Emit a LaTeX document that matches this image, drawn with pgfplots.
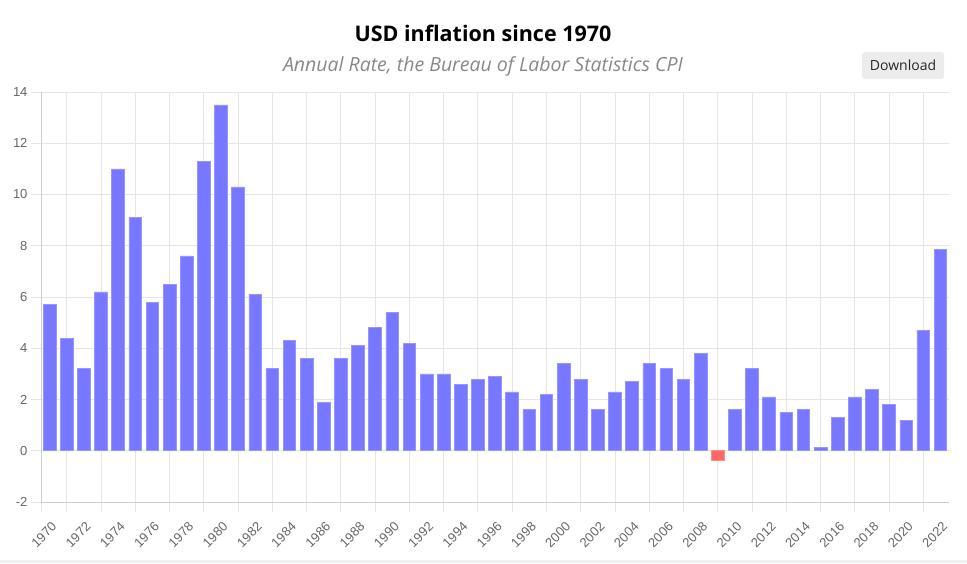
\documentclass[border=0pt]{standalone}
\usepackage{pgfplots}
\pgfplotsset{compat=1.18}
\usepackage{fontspec}
\setmainfont{Liberation Sans}
\newfontfamily\osfont{Open Sans}
\definecolor{barblue}{RGB}{119,119,255}
\definecolor{baredge}{RGB}{150,150,255}
\definecolor{barred}{RGB}{255,102,102}
\definecolor{rededge}{RGB}{255,140,140}
\definecolor{gridc}{RGB}{229,229,229}
\definecolor{axc}{RGB}{205,205,205}
\definecolor{tickc}{RGB}{102,102,102}
\definecolor{subc}{RGB}{136,136,136}
\pgfplotstableread{
year val
1970 5.7
1971 4.4
1972 3.2
1973 6.2
1974 11.0
1975 9.1
1976 5.8
1977 6.5
1978 7.6
1979 11.3
1980 13.5
1981 10.3
1982 6.1
1983 3.2
1984 4.3
1985 3.6
1986 1.9
1987 3.6
1988 4.1
1989 4.8
1990 5.4
1991 4.2
1992 3.0
1993 3.0
1994 2.6
1995 2.8
1996 2.9
1997 2.3
1998 1.6
1999 2.2
2000 3.4
2001 2.8
2002 1.6
2003 2.3
2004 2.7
2005 3.4
2006 3.2
2007 2.8
2008 3.8
2010 1.6
2011 3.2
2012 2.1
2013 1.5
2014 1.6
2015 0.12
2016 1.3
2017 2.1
2018 2.4
2019 1.8
2020 1.2
2021 4.7
2022 7.85
}\pos
\pgfplotstableread{
year val
2009 -0.36
}\negv
\begin{document}
\begin{tikzpicture}
\path[use as bounding box] (0,0) rectangle (967pt,563pt);
\fill[gray!12] (0,0) rectangle (967pt,3pt);
\node[font=\osfont\bfseries\fontsize{21.5}{24}\selectfont] at (483pt,530pt) {USD inflation since 1970};
\node[font=\osfont\itshape\fontsize{19.5}{22}\selectfont, text=subc] at (483pt,497pt) {Annual Rate, the Bureau of Labor Statistics CPI};
\node[fill=gray!15, rounded corners=3pt, minimum width=82pt, minimum height=27pt, font=\osfont\fontsize{14}{16}\selectfont, text=black!85] at (903pt,497.5pt) {Download};
\begin{axis}[at={(41pt,61pt)}, anchor=south west, scale only axis,
  width=908pt, height=410pt,
  xmin=1969.5, xmax=2022.5, ymin=-2, ymax=14,
  axis x line=bottom, axis y line=left,
  axis line style={-, draw=axc, line width=0.8pt},
  ytick={-2,0,2,4,6,8,10,12,14},
  xtick={1969.5,1971,1973,1975,1977,1979,1981,1983,1985,1987,1989,1991,1993,1995,1997,1999,2001,2003,2005,2007,2009,2011,2013,2015,2017,2019,2021},
  xticklabels={},
  extra x ticks={1970,1972,1974,1976,1978,1980,1982,1984,1986,1988,1990,1992,1994,1996,1998,2000,2002,2004,2006,2008,2010,2012,2014,2016,2018,2020,2022},
  extra x tick labels={1970,1972,1974,1976,1978,1980,1982,1984,1986,1988,1990,1992,1994,1996,1998,2000,2002,2004,2006,2008,2010,2012,2014,2016,2018,2020,2022},
  extra x tick style={grid=none, major tick length=0pt, tick style={draw=none},
    xticklabel style={xshift=7pt, yshift=-20pt, rotate=45, anchor=east}},
  grid=major, grid style={gridc, line width=0.8pt},
  tick align=outside, major tick length=10pt,
  tick style={draw=gridc, line width=0.8pt},
  tick label style={font=\fontsize{13}{15}\selectfont, text=tickc},
  /pgf/number format/assume math mode=true,
  ybar, bar width=0.74, bar shift=0pt,
  clip=false,
]
\addplot[fill=barblue, draw=baredge, line width=0.6pt] table[x=year,y=val]{\pos};
\addplot[fill=barred, draw=rededge, line width=0.6pt] table[x=year,y=val]{\negv};
\end{axis}
\end{tikzpicture}
\end{document}
